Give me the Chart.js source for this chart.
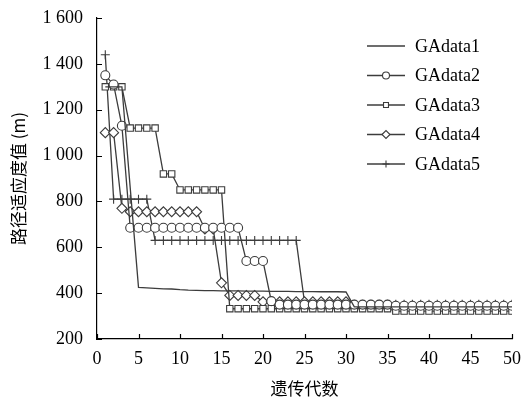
<!DOCTYPE html>
<html>
<head>
<meta charset="utf-8">
<script src="https://cdn.jsdelivr.net/npm/chart.js@4.4.1/dist/chart.umd.min.js"></script>
<style>
html,body{margin:0;padding:0;background:#fff;}
#wrap{width:526px;height:408px;position:relative;}
</style>
</head>
<body>
<div id="wrap"><canvas id="c" width="526" height="408"></canvas></div>
<script>
const generations = [1,2,3,4,5,6,7,8,9,10,11,12,13,14,15,16,17,18,19,20,21,22,23,24,25,26,27,28,29,30,31,32,33,34,35,36,37,38,39,40,41,42,43,44,45,46,47,48,49,50];
const GAdata1 = [1300,1300,1300,860,425,423,421,419,418,415,413,412,411,411,410,410,410,409,409,409,408,408,408,407,407,407,406,406,406,405,340,340,340,340,340,340,340,340,340,340,340,340,340,340,340,340,340,340,340,340];
const GAdata2 = [1350,1310,1130,685,685,685,685,685,685,685,685,685,685,685,685,685,685,540,540,540,365,350,350,350,350,350,350,350,350,350,350,350,350,350,350,345,345,345,345,345,345,345,345,345,345,345,345,345,345,345];
const GAdata3 = [1300,1300,1300,1120,1120,1120,1120,920,920,850,850,850,850,850,850,332,332,332,332,332,332,332,332,332,332,332,332,332,332,332,332,332,332,332,332,322,322,322,322,322,322,322,322,322,322,322,322,322,322,322];
const GAdata4 = [1100,1100,770,755,755,755,755,755,755,755,755,755,680,680,445,390,390,390,390,362,362,362,362,362,362,362,362,362,362,362,342,342,342,342,342,342,342,342,342,342,342,342,342,342,342,342,342,342,342,342];
const GAdata5 = [1440,810,810,810,810,810,630,630,630,630,630,630,630,630,630,630,630,630,630,630,630,630,630,630,360,352,352,352,352,352,352,352,352,352,352,352,352,352,352,352,352,352,352,352,352,352,352,352,352,352];
const seriesNames = ['GAdata1','GAdata2','GAdata3','GAdata4','GAdata5'];
const yTicks = [200,400,600,800,1000,1200,1400,1600];
const xTicks = [0,5,10,15,20,25,30,35,40,45,50];

const LINE = '#3c3c3c';
const styles = [
  {pointStyle:false, radius:0},
  {pointStyle:'circle', radius:4.5},
  {pointStyle:'rect', radius:4.5},
  {pointStyle:'rectRot', radius:5},
  {pointStyle:'cross', radius:4.5}
];
const allData = [GAdata1,GAdata2,GAdata3,GAdata4,GAdata5];

function fmt(v){
  const s = String(v);
  return s.length > 3 ? s.slice(0, s.length-3) + ' ' + s.slice(-3) : s;
}

const datasets = allData.map((arr,i)=>({
  label: seriesNames[i],
  data: arr.map((v,j)=>({x:generations[j], y:v})),
  borderColor: LINE,
  backgroundColor: '#ffffff',
  borderWidth: 1.3,
  pointStyle: styles[i].pointStyle,
  pointRadius: styles[i].radius,
  pointBorderColor: LINE,
  pointBackgroundColor: '#ffffff',
  pointBorderWidth: 1.1,
  tension: 0
}));

const legendPlugin = {
  id:'customLegend',
  afterDraw(chart){
    const ctx = chart.ctx;
    ctx.save();
    const x0 = 367, x1 = 405, tx = 415;
    const y0 = 46, dy = 29.5;
    ctx.font = '18px "Liberation Serif", "Times New Roman", serif';
    ctx.textBaseline = 'middle';
    ctx.fillStyle = '#000';
    seriesNames.forEach((name,i)=>{
      const y = y0 + i*dy;
      ctx.strokeStyle = LINE;
      ctx.lineWidth = 1.3;
      ctx.beginPath(); ctx.moveTo(x0,y); ctx.lineTo(x1,y); ctx.stroke();
      if (styles[i].pointStyle) {
        ctx.fillStyle = '#fff';
        ctx.lineWidth = 1.1;
        Chart.helpers.drawPoint(ctx, {pointStyle: styles[i].pointStyle, radius: styles[i].radius-1, borderWidth:1.1, rotation:0}, (x0+x1)/2, y);
      }
      ctx.fillStyle = '#000';
      ctx.fillText(name, tx, y+1);
    });
    ctx.restore();
  }
};

const innerTicks = {
  id:'innerTicks',
  afterDraw(chart){
    const ctx = chart.ctx, a = chart.chartArea;
    const xs = chart.scales.x, ys = chart.scales.y;
    ctx.save();
    ctx.strokeStyle = '#000';
    ctx.lineWidth = 1.2;
    ctx.beginPath();
    yTicks.forEach(v=>{ const p = Math.round(ys.getPixelForValue(v))+0.5; ctx.moveTo(a.left, p); ctx.lineTo(a.left+5, p); });
    xTicks.forEach(v=>{ const p = Math.round(xs.getPixelForValue(v))+0.5; ctx.moveTo(p, a.bottom); ctx.lineTo(p, a.bottom-5); });
    ctx.stroke();
    ctx.restore();
  }
};

const tickFont = {family:'"Liberation Serif", "Times New Roman", serif', size:18};

new Chart(document.getElementById('c'), {
  type:'line',
  data:{datasets},
  plugins:[legendPlugin, innerTicks],
  options:{
    responsive:false,
    animation:false,
    devicePixelRatio:1,
    layout:{padding:{top:18,right:14,left:0,bottom:0}},
    plugins:{legend:{display:false}, tooltip:{enabled:false}},
    scales:{
      x:{
        type:'linear', min:0, max:50,
        grid:{display:false, drawTicks:false},
        border:{display:true, color:'#000', width:1.2},
        ticks:{stepSize:5, color:'#000', font:tickFont, padding:9, maxRotation:0},
        title:{display:true, text:'遗传代数', color:'#000', font:{family:'"Noto Sans CJK SC", sans-serif', size:17}, padding:{top:2, bottom:9}},
        afterFit(s){ s.height = 69; s.paddingLeft = 0; s.paddingRight = 0; }
      },
      y:{
        min:200, max:1600,
        grid:{display:false, drawTicks:false},
        border:{display:true, color:'#000', width:1.2},
        ticks:{stepSize:200, color:'#000', font:tickFont, padding:14, callback:(v)=>fmt(v)},
        title:{display:true, text:'路径适应度值 (m)', color:'#000', font:{family:'"Noto Sans CJK SC", sans-serif', size:17}, padding:{top:8, bottom:4}},
        afterFit(s){ s.width = 97; s.paddingTop = 0; s.paddingBottom = 0; }
      }
    }
  }
});
</script>
</body>
</html>
